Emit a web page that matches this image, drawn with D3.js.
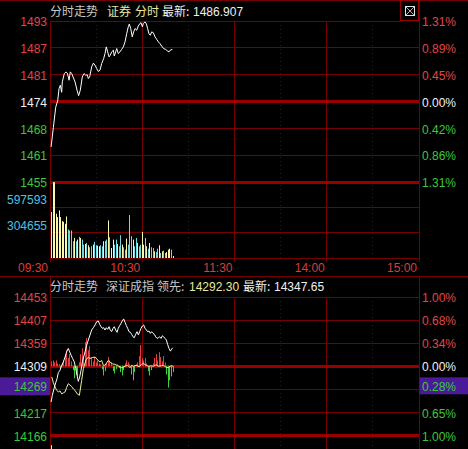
<!DOCTYPE html>
<html>
<head>
<meta charset="utf-8">
<script src="https://cdn.jsdelivr.net/npm/d3@7"></script>
<style>
  html, body { margin: 0; padding: 0; background: #000; overflow: hidden; }
  svg { display: block; }
  text { font-family: "Liberation Sans", Arial, sans-serif; font-size: 12px; }
  text.cjk { font-family: "Noto Sans CJK SC", sans-serif; }
</style>
</head>
<body>
<div class="chart"></div>
<script>
// time axis: minutes of trading since 09:30
var timeTicks = [0, 60, 120, 180, 240];
var timeLabels = ['09:30', '10:30', '11:30', '14:00', '15:00'];
var solidTimes = [60, 120, 180];
var dottedTimes = [30, 90, 150, 210];

// upper panel: 证券
var secBase = 1473.8;
var secRange = 0.0131;
var secPriceLabels = ['1493', '1487', '1481', '1474', '1468', '1461', '1455'];
var secPctLabels = ['1.31%', '0.89%', '0.45%', '0.00%', '0.42%', '0.86%', '1.31%'];
var secMinutes = [0.7,2.2,3.7,5.0,5.9,6.7,7.6,8.0,9.3,10.4,11.3,12.4,13.2,14.1,16.3,17.6,18.6,19.7,21.0,22.1,
  23.2,24.3,24.9,25.8,27.1,28.2,29.3,30.4,31.4,32.5,33.6,34.9,35.8,36.6,37.5,38.4,39.2,40.1,41.2,41.8,
  42.7,43.4,44.4,45.5,46.6,47.7,48.8,49.9,50.9,51.6,52.5,53.5,54.4,55.3,56.4,57.4,58.5,59.2,60.1,60.7,
  61.8,62.7,63.5,64.4,65.3,66.1,67.2,68.3,69.4,70.5,71.5,72.6,73.9,75.2,76.5,77.4,78.2,79.6];
var secPrices = [1462.9,1467.6,1472.4,1474.0,1476.9,1477.7,1476.0,1478.5,1480.5,1480.9,1480.6,1478.9,1480.9,1480.5,1478.5,1476.5,1475.2,1476.5,1479.7,1480.5,
  1480.1,1480.2,1479.3,1479.7,1482.1,1483.0,1482.5,1481.7,1481.0,1481.3,1482.9,1484.1,1485.3,1486.9,1485.7,1484.5,1484.9,1485.7,1486.1,1484.7,
  1485.7,1486.5,1485.3,1485.7,1486.3,1486.9,1488.1,1490.1,1491.7,1492.4,1491.3,1489.3,1490.5,1491.3,1490.9,1491.9,1492.5,1492.7,1491.7,1492.5,
  1492.9,1492.4,1491.3,1490.0,1489.7,1490.5,1490.3,1489.3,1488.7,1488.1,1487.7,1487.1,1486.5,1486.3,1485.9,1485.7,1486.1,1486.3];

var volLabels = ['597593', '304655'];
var volMax = 920000;
var volumes = [556000,918000,918000,536000,495000,576000,495000,446000,438000,414000,503000,345000,333000,333000,
  203000,243000,203000,223000,256000,243000,223000,162000,170000,182000,154000,130000,142000,162000,195000,154000,
  150000,142000,154000,142000,203000,207000,223000,455000,251000,121000,223000,162000,223000,170000,142000,276000,
  162000,130000,101000,235000,162000,520000,264000,223000,142000,243000,182000,142000,162000,316000,162000,243000,
  142000,113000,182000,130000,121000,81000,73000,113000,154000,61000,81000,89000,61000,73000,101000,113000,101000,24000];
var volUp = 'uuuuuuuuuuuddd' + 'dudududdud' + 'uddudduudd' + 'udduduuddu' + 'dduddudddu' + 'ddudduudud' + 'udduddudud' + 'duuudu';

// lower panel: 深证成指
var idxBase = 14309;
var idxRange = 0.01;
var idxPriceLabels = ['14453', '14407', '14359', '14309', '14269', '14217', '14166'];
var idxPctLabels = ['1.00%', '0.68%', '0.34%', '0.00%', '0.28%', '0.65%', '1.00%'];
var idxMarkedRow = 4;
var idxMinutes = [0.7,1.5,2.6,3.7,4.6,5.4,6.5,7.6,8.7,9.8,10.8,11.9,12.8,13.7,14.7,15.8,16.7,17.6,18.4,19.3,
  20.2,21.0,21.9,22.8,23.9,24.9,26.0,27.1,28.2,29.3,30.4,31.4,32.3,33.2,34.0,34.9,35.8,36.6,37.5,38.4,
  39.2,40.1,41.0,41.8,42.7,43.6,44.4,45.3,46.2,47.0,47.9,48.8,49.7,50.5,51.4,52.3,53.1,54.0,54.8,55.7,
  56.6,57.5,58.3,59.2,60.1,60.9,61.8,62.7,63.5,64.4,65.3,66.1,67.0,67.9,68.7,69.6,70.5,71.3,72.2,73.1,
  73.9,74.8,75.7,76.5,77.4,78.3,79.1,79.8];
var idxPrices = [14234.8,14248.7,14262.6,14275.0,14283.4,14295.8,14300.7,14311.1,14318.0,14328.4,
  14338.8,14345.8,14338.8,14331.9,14325.0,14318.0,14304.2,14290.3,14277.8,14286.8,
  14300.7,14318.0,14328.4,14338.8,14352.7,14363.1,14373.5,14383.9,14388.7,14394.3,
  14401.2,14402.6,14395.7,14390.7,14387.4,14388.7,14383.9,14388.7,14385.3,14390.7,
  14383.9,14380.4,14387.4,14390.7,14383.9,14379.1,14387.4,14392.8,14397.8,14402.6,
  14406.8,14399.9,14392.8,14387.4,14380.4,14379.1,14374.9,14369.9,14367.9,14374.9,
  14380.4,14373.5,14380.4,14387.4,14392.2,14394.3,14387.4,14383.9,14380.4,14381.8,
  14377.0,14380.4,14377.0,14374.9,14369.9,14366.6,14367.9,14369.9,14366.6,14372.0,
  14369.9,14366.6,14363.1,14354.1,14345.8,14340.2,14344.4,14347.1];
var leadMinutes = [1.1,2.2,3.3,4.4,5.4,6.5,7.6,8.7,9.8,10.8,11.9,13.0,14.1,15.2,16.3,17.7,19.1,20.6,21.7,23.4,
  24.9,26.0,27.5,29.3,31.0,32.5,33.6,34.7,35.8,37.9,39.0,40.5,42.3,44.0,45.5,46.6,48.8,50.5,52.0,53.1,
  54.2,56.0,58.0,59.6,60.7,62.5,64.0,66.0,67.2,69.0,70.5,72.6,73.7,75.0,76.8,78.0,79.1,80.2];
var leadPrices = [14287,14275,14266,14259,14256,14258,14252,14254,14256,14265,14273,14270,14267,14262,14259,14252,14249,14280,14304,14322,
  14328,14325,14327,14328,14322,14318,14321,14311,14311,14321,14318,14314,14313,14310,14308,14306,14309,14311,14306,14311,
  14309,14311,14308,14313,14315,14311,14309,14310,14309,14312,14309,14310,14311,14308,14306,14309,14310,14309];
var idxBars = [10,12,8,12,6,4,-4,6,12,21,33,17,25,10,-8,-25,-17,-21,8,25,
  37,21,50,58,33,42,17,10,19,8,12,6,4,-6,-19,-10,6,19,12,8,
  -10,-15,-6,4,-4,-12,-19,-8,6,12,8,4,-17,-29,-12,4,8,21,44,17,
  12,17,6,-10,-19,-8,6,17,25,12,29,19,10,21,8,-17,-44,-29,-21,-12];
var idxVolumes = [2150000];
var idxVolMax = 2400000;

var secTitle = { name: '分时走势', code: '证券', mode: '分时', last: '最新:', value: '1486.907' };
var idxTitle = { name: '分时走势', code: '深证成指', lead: '领先:', leadValue: '14292.30', last: '最新:', value: '14347.65' };

function init() {
  var width = 468,
      height = 449,
      left = 50,
      right = 419,
      secTop = 21,
      secBottom = 182,
      volBottom = 258,
      idxTop = 297,
      idxBottom = 435.5,
      gridColor = '#760000',
      thickColor = '#980000',
      upColor = '#e04646',
      downColor = '#3cc83c',
      flatColor = '#f0f0f0';

  var svg = d3.select('.chart')
    .append('svg')
      .attr('width', width)
      .attr('height', height);

  var x = d3.scaleLinear().domain([0, 240]).range([left, right]);
  var ySec = d3.scaleLinear()
      .domain([secBase * (1 - secRange), secBase * (1 + secRange)])
      .range([secBottom, secTop]);
  var yVol = d3.scaleLinear().domain([0, volMax]).range([volBottom, secBottom]);
  var yIdx = d3.scaleLinear()
      .domain([idxBase * (1 - idxRange), idxBase * (1 + idxRange)])
      .range([idxBottom, idxTop]);
  var yIdxVol = d3.scaleLinear().domain([0, idxVolMax]).range([529, idxBottom]);
  var levels = [3, 2, 1, 0, -1, -2, -3];

  function crisp(v) { return Math.round(v - 0.5) + 0.5; }
  function levelColor(k) { return k > 0 ? upColor : (k < 0 ? downColor : flatColor); }

  function hline(y, x1, x2, thick) {
    svg.append('line')
        .attr('x1', x1).attr('x2', x2)
        .attr('y1', crisp(y)).attr('y2', crisp(y))
        .attr('stroke', thick ? thickColor : gridColor)
        .attr('stroke-width', thick ? 3 : 1);
  }

  function vline(xv, y1, y2, dotted) {
    svg.append('line')
        .attr('x1', crisp(xv)).attr('x2', crisp(xv))
        .attr('y1', y1).attr('y2', y2)
        .attr('stroke', gridColor)
        .attr('stroke-width', 1)
        .attr('stroke-dasharray', dotted ? '1,3' : null);
  }

  // frame lines
  hline(0, 0, width, false);
  hline(276, 0, width, false);
  vline(right, 0, 262, false);
  vline(right, 277, height, false);
  vline(left, secTop, 262, false);
  vline(left, 277, height, false);

  // vertical time grid
  solidTimes.forEach(function(t) {
    vline(x(t), secTop, 262, false);
    vline(x(t), idxTop, height, false);
  });
  dottedTimes.forEach(function(t) {
    vline(x(t), secTop, volBottom, true);
    vline(x(t), idxTop, height, true);
  });

  // upper price grid + labels
  levels.forEach(function(k, i) {
    var y = ySec(secBase * (1 + secRange * k / 3));
    hline(y, left, i === 0 ? 400 : right, k === 0 || k === -3);
    svg.append('text')
        .attr('x', 47).attr('y', y + 1)
        .attr('dy', '0.35em')
        .attr('text-anchor', 'end')
        .attr('fill', levelColor(k))
        .text(secPriceLabels[i]);
    svg.append('text')
        .attr('x', 422).attr('y', y + 1)
        .attr('dy', '0.35em')
        .attr('fill', levelColor(k))
        .text(secPctLabels[i]);
  });

  // volume grid + labels
  [2, 1].forEach(function(k, i) {
    var y = yVol(volMax * k / 3);
    hline(y, left, right, false);
    svg.append('text')
        .attr('x', 47).attr('y', y - 3)
        .attr('text-anchor', 'end')
        .attr('fill', '#50c0e0')
        .text(volLabels[i]);
  });
  hline(volBottom, left, right, false);

  // time axis
  timeTicks.forEach(function(t, i) {
    vline(x(t), volBottom, 262, false);
    svg.append('text')
        .attr('x', x(t) - 2).attr('y', 272)
        .attr('text-anchor', 'end')
        .attr('fill', '#dc3c3c')
        .text(timeLabels[i]);
  });

  // lower grid + labels
  levels.forEach(function(k, i) {
    var y = yIdx(idxBase * (1 + idxRange * k / 3));
    hline(y, left, right, k === 0 || k === -3);
    var ly = y + 1;
    if (i === idxMarkedRow) {
      svg.append('rect')
          .attr('x', 0).attr('y', y - 12)
          .attr('width', left).attr('height', 18)
          .attr('fill', '#4a1a98');
      svg.append('rect')
          .attr('x', right + 0.5).attr('y', y - 12)
          .attr('width', width - right).attr('height', 17)
          .attr('fill', '#4a1a98');
      ly = y - 3;
    }
    svg.append('text')
        .attr('x', 47).attr('y', ly)
        .attr('dy', '0.35em')
        .attr('text-anchor', 'end')
        .attr('fill', levelColor(k))
        .text(idxPriceLabels[i]);
    svg.append('text')
        .attr('x', 422).attr('y', ly)
        .attr('dy', '0.35em')
        .attr('fill', levelColor(k))
        .text(idxPctLabels[i]);
  });

  // volume bars
  svg.append('g').selectAll('rect')
    .data(volumes)
    .enter().append('rect')
      .attr('x', function(d, i) { return Math.floor(x(i + 1)); })
      .attr('y', function(d) { return yVol(d); })
      .attr('width', 1)
      .attr('height', function(d) { return volBottom - yVol(d); })
      .attr('fill', function(d, i) { return volUp[i] === 'u' ? '#f8f8a8' : '#70d8e0'; });

  // lower panel red / green bars
  svg.append('g').selectAll('rect')
    .data(idxBars)
    .enter().append('rect')
      .attr('x', function(d, i) { return Math.floor(x(i + 1)); })
      .attr('y', function(d) { return Math.min(yIdx(idxBase), yIdx(idxBase + d)); })
      .attr('width', 1)
      .attr('height', function(d) { return Math.abs(yIdx(idxBase + d) - yIdx(idxBase)); })
      .attr('fill', function(d) { return d > 0 ? '#e83c3c' : '#3cd23c'; });

  // lower volume panel (cut off)
  svg.append('g').selectAll('rect')
    .data(idxVolumes)
    .enter().append('rect')
      .attr('x', function(d, i) { return Math.floor(x(i + 1)); })
      .attr('y', function(d) { return yIdxVol(d); })
      .attr('width', 1)
      .attr('height', function(d) { return height - yIdxVol(d); })
      .attr('fill', '#f8f8a8');

  var secLine = d3.line()
      .x(function(d) { return x(d[0]); })
      .y(function(d) { return ySec(d[1]); });
  var idxLine = d3.line()
      .x(function(d) { return x(d[0]); })
      .y(function(d) { return yIdx(d[1]); });

  svg.append('path')
      .datum(d3.zip(leadMinutes, leadPrices))
      .attr('d', idxLine)
      .attr('fill', 'none')
      .attr('stroke', '#f0f0a0')
      .attr('stroke-width', 1);
  svg.append('path')
      .datum(d3.zip(idxMinutes, idxPrices))
      .attr('d', idxLine)
      .attr('fill', 'none')
      .attr('stroke', '#ffffff')
      .attr('stroke-width', 1);
  svg.append('path')
      .datum(d3.zip(secMinutes, secPrices))
      .attr('d', secLine)
      .attr('fill', 'none')
      .attr('stroke', '#ffffff')
      .attr('stroke-width', 1);

  // titles
  function label(xv, y, txt, color, cjk) {
    svg.append('text')
        .attr('class', cjk ? 'cjk' : null)
        .attr('x', xv).attr('y', y)
        .attr('fill', color)
        .text(txt);
  }
  label(50, 16, secTitle.name, '#c8c8c8', true);
  label(107, 16, secTitle.code, '#e8e8a0', true);
  label(135, 16, secTitle.mode, '#e8e8a0', true);
  label(162, 16, secTitle.last, '#f0f0f0', true);
  label(193, 16, secTitle.value, '#f0f0f0', false);

  label(50, 291, idxTitle.name, '#c8c8c8', true);
  label(106, 291, idxTitle.code, '#c8c8c8', true);
  label(157, 291, idxTitle.lead, '#c8c8c8', true);
  label(189, 291, idxTitle.leadValue, '#e8e8a0', false);
  label(243, 291, idxTitle.last, '#f0f0f0', true);
  label(274, 291, idxTitle.value, '#f0f0f0', false);

  // close box
  svg.append('rect')
      .attr('x', 400.5).attr('y', 0.5)
      .attr('width', 18).attr('height', 20)
      .attr('fill', 'none')
      .attr('stroke', thickColor);
  svg.append('rect')
      .attr('x', 405.5).attr('y', 6.5)
      .attr('width', 9).attr('height', 9)
      .attr('fill', 'none')
      .attr('stroke', '#e0e0e0');
  svg.append('path')
      .attr('d', 'M406,7L414,15M414,7L406,15')
      .attr('stroke', '#b0b0b0')
      .attr('stroke-width', 1);
}

d3.select(window).on('load', init);
</script>
</body>
</html>
